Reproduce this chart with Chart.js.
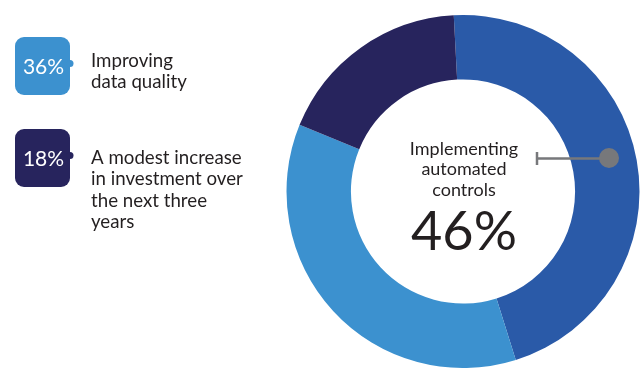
<!DOCTYPE html>
<html>
<head>
<meta charset="utf-8">
<script src="https://cdn.jsdelivr.net/npm/chart.js@4/dist/chart.umd.min.js"></script>
<style>
  html, body { margin: 0; padding: 0; background: #ffffff; overflow: hidden; }
  #wrap { position: relative; width: 642px; height: 368px; }
</style>
</head>
<body>
<div id="wrap"><canvas id="donut" width="642" height="368"></canvas></div>
<script>
// Survey answers and their shares (%)
const categories = [
  'Implementing automated controls',
  'Improving data quality',
  'A modest increase in investment over the next three years'
];
const shares = [46, 36, 18];
const sliceColors = ['#2a5aa8', '#3c91cf', '#27245d'];

// Text shown inside the ring and beside the side badges
const centerLines = ['Implementing', 'automated', 'controls'];
const badgeLines = [
  ['Improving', 'data quality'],
  ['A modest increase', 'in investment over', 'the next three', 'years']
];

const FONT = 'Lato, "Open Sans", sans-serif';
const INK = '#231f20';
const CALLOUT = '#77787b';

// Center caption, pointer to the main slice, and the side badges
const annotations = {
  id: 'annotations',
  afterDraw(chart) {
    const ctx = chart.ctx;
    const arc = chart.getDatasetMeta(0).data[0];
    const cx = arc.x, cy = arc.y;
    ctx.save();

    // caption in the hole
    ctx.fillStyle = INK;
    ctx.textAlign = 'center';
    ctx.textBaseline = 'alphabetic';
    ctx.font = '18px ' + FONT;
    centerLines.forEach((t, i) => ctx.fillText(t, cx + 1, cy - 37 + i * 20.5));
    ctx.font = '54px ' + FONT;
    ctx.fillText(shares[0] + '%', cx + 1, cy + 58);

    // pointer from the caption into the main slice
    ctx.strokeStyle = CALLOUT;
    ctx.lineWidth = 2.5;
    ctx.beginPath();
    ctx.moveTo(cx + 74, cy - 33);
    ctx.lineTo(cx + 146, cy - 33);
    ctx.moveTo(cx + 74, cy - 39.5);
    ctx.lineTo(cx + 74, cy - 26.5);
    ctx.stroke();
    ctx.fillStyle = CALLOUT;
    ctx.beginPath();
    ctx.arc(cx + 146, cy - 33.5, 10, 0, Math.PI * 2);
    ctx.fill();

    // side badges for the two other slices
    const tops = [37, 129];
    const firstBaselines = [67, 164];
    [1, 2].forEach((idx, k) => {
      const x = 15, y = tops[k], w = 55, h = 58;
      ctx.fillStyle = sliceColors[idx];
      ctx.beginPath();
      ctx.roundRect(x, y, w, h, 9);
      ctx.fill();
      ctx.beginPath();
      ctx.arc(x + w, y + h / 2 - 2.5, 3.5, 0, Math.PI * 2);
      ctx.fill();

      ctx.fillStyle = '#ffffff';
      ctx.textAlign = 'center';
      ctx.font = '21px ' + FONT;
      ctx.fillText(shares[idx] + '%', x + w / 2 + 1, y + h / 2 + 7.5);

      ctx.fillStyle = INK;
      ctx.textAlign = 'left';
      ctx.font = '18.7px ' + FONT;
      badgeLines[k].forEach((t, i) => ctx.fillText(t, 91, firstBaselines[k] + i * 21.3));
    });

    ctx.restore();
  }
};

new Chart(document.getElementById('donut'), {
  type: 'doughnut',
  data: {
    labels: categories,
    datasets: [{
      data: shares,
      backgroundColor: sliceColors,
      borderWidth: 0,
      hoverOffset: 0
    }]
  },
  options: {
    responsive: false,
    animation: false,
    rotation: -3,
    cutout: '63.5%',
    layout: { padding: { left: 286, right: 2, top: 15, bottom: 0 } },
    plugins: { legend: { display: false }, tooltip: { enabled: false } }
  },
  plugins: [annotations]
});
</script>
</body>
</html>
